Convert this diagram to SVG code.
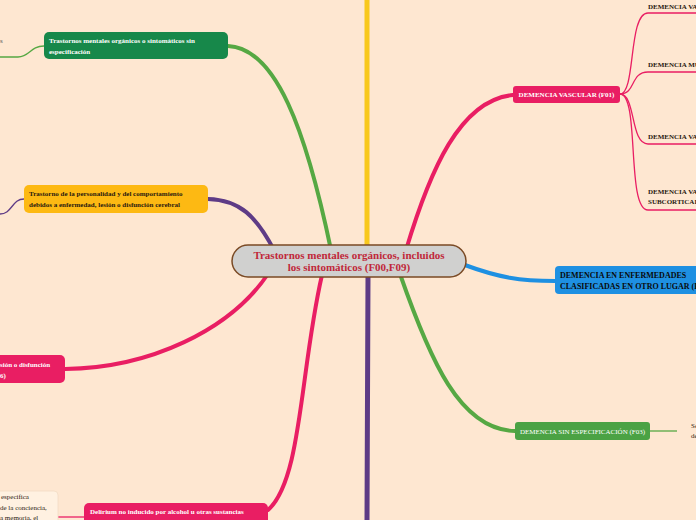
<svg xmlns="http://www.w3.org/2000/svg" width="696" height="520" viewBox="0 0 696 520">
<style>
.t{font-family:"Liberation Serif","Times New Roman",serif;font-weight:bold}
.r{font-family:"Liberation Serif","Times New Roman",serif}
.w{fill:#ffffff}
.k{fill:#2a1a10}
.main{fill:none;stroke-linecap:round}
.sub{fill:none;stroke-width:1.3}
</style>
<rect x="0" y="0" width="696" height="520" fill="#FEE7D1"/>
<g id="connectors">
  <path class="main" d="M367 0 L367 246" stroke="#F8C81C" stroke-width="5"/>
  <path class="main" d="M368 276 L367 520" stroke="#5E3B86" stroke-width="5"/>
  <path class="main" d="M331 250 C306 130 276 48 228 46" stroke="#56A843" stroke-width="4"/>
  <path class="main" d="M274 250 C256 216 240 200 208 199" stroke="#5E3B86" stroke-width="4"/>
  <path class="main" d="M268 274 C230 330 150 368 65 369" stroke="#E91E63" stroke-width="4"/>
  <path class="main" d="M322 275 C300 370 302 480 268 510" stroke="#E91E63" stroke-width="4"/>
  <path class="main" d="M406 250 C430 170 460 100 513 95" stroke="#E91E63" stroke-width="4"/>
  <path class="main" d="M462 264 C500 278 520 281 555 281" stroke="#1E90E2" stroke-width="4"/>
  <path class="main" d="M400 274 C430 360 460 430 515 431" stroke="#56A843" stroke-width="4"/>
  <path class="sub" d="M620 94 C636 94 628 13 648 13 L696 13" stroke="#E91E63"/>
  <path class="sub" d="M620 94 C636 94 630 72 648 72 L696 72" stroke="#E91E63"/>
  <path class="sub" d="M620 94 C636 94 630 144 648 144 L696 144" stroke="#E91E63"/>
  <path class="sub" d="M620 94 C640 94 626 210 648 210 L696 210" stroke="#E91E63"/>
  <path class="sub" d="M650 431 L677 431" stroke="#56A843"/>
  <path class="sub" d="M44 46 C30 46 30 57 18 57 L0 57" stroke="#56A843"/>
  <path class="sub" d="M24 199 C12 199 12 214 0 214" stroke="#5E3B86"/>
  <path class="sub" d="M58 517 L84 517" stroke="#E91E63"/>
</g>
<g id="center">
  <rect x="232" y="245" width="234" height="32" rx="16" fill="#D0D0CF" stroke="#7A4A25" stroke-width="1.5"/>
  <text class="t" x="349" y="259" font-size="11" fill="#C0283A" text-anchor="middle">Trastornos mentales orgánicos, incluidos</text>
  <text class="t" x="349" y="271" font-size="11" fill="#C0283A" text-anchor="middle">los sintomáticos (F00,F09)</text>
</g>
<g id="n-sin-especificacion">
  <rect x="44" y="32" width="184" height="27" rx="5" fill="#17884A"/>
  <text class="t w" x="49" y="43" font-size="7">Trastornos mentales orgánicos o sintomáticos sin</text>
  <text class="t w" x="49" y="54" font-size="7">especificación</text>
</g>
<g id="n-frag-s">
  <text class="r" x="0" y="43" font-size="7" fill="#555">s</text>
</g>
<g id="n-personalidad">
  <rect x="24" y="185" width="184" height="28" rx="5" fill="#FDB913"/>
  <text class="t k" x="29" y="196" font-size="7">Trastorno de la personalidad y del comportamiento</text>
  <text class="t k" x="29" y="207" font-size="7">debidos a enfermedad, lesión o disfunción cerebral</text>
</g>
<g id="n-pink-left">
  <rect x="-20" y="355" width="85" height="28" rx="5" fill="#E91E63"/>
  <text class="t w" x="0" y="367" font-size="7">sión o disfunción</text>
  <text class="t w" x="0" y="378" font-size="7">6)</text>
</g>
<g id="n-delirium">
  <rect x="84" y="503" width="184" height="27" rx="5" fill="#E91E63"/>
  <text class="t w" x="90" y="514" font-size="7">Delirium no inducido por alcohol u otras sustancias</text>
</g>
<g id="n-note-left">
  <rect x="-10" y="491" width="68" height="40" rx="4" fill="#FFF1E1" stroke="#F3DCC4" stroke-width="0.8"/>
  <text class="r k" x="1" y="499" font-size="7">especifica</text>
  <text class="r k" x="0" y="510" font-size="7">de la conciencia,</text>
  <text class="r k" x="0" y="520" font-size="7">a memoria, el</text>
</g>
<g id="n-vascular">
  <rect x="513" y="86" width="107" height="17" rx="3" fill="#E91E63"/>
  <text class="t w" x="566.5" y="97" font-size="7" text-anchor="middle">DEMENCIA VASCULAR (F01)</text>
</g>
<g id="n-vasc-1"><text class="t k" x="648" y="9" font-size="7">DEMENCIA VASCULAR</text></g>
<g id="n-vasc-2"><text class="t k" x="648" y="67" font-size="7">DEMENCIA MULTI-INFARTO</text></g>
<g id="n-vasc-3"><text class="t k" x="648" y="139" font-size="7">DEMENCIA VASCULAR</text></g>
<g id="n-vasc-4">
  <text class="t k" x="648" y="194" font-size="7">DEMENCIA VASCULAR</text>
  <text class="t k" x="648" y="204" font-size="7">SUBCORTICAL</text>
</g>
<g id="n-otro-lugar">
  <rect x="555" y="266" width="150" height="28" rx="4" fill="#1E90E2"/>
  <text class="t" x="560" y="278" font-size="8" fill="#0a0a0a">DEMENCIA EN ENFERMEDADES</text>
  <text class="t" x="560" y="289" font-size="8" fill="#0a0a0a">CLASIFICADAS EN OTRO LUGAR (F02)</text>
</g>
<g id="n-sin-espec">
  <rect x="515" y="422" width="135" height="18" rx="3" fill="#4BA244"/>
  <text class="r w" x="582.5" y="434" font-size="7" text-anchor="middle">DEMENCIA SIN ESPECIFICACIÓN (F03)</text>
</g>
<g id="n-frag-right">
  <text class="r k" x="691" y="428" font-size="7">Se</text>
  <text class="r k" x="691" y="438" font-size="7">de</text>
</g>
</svg>
